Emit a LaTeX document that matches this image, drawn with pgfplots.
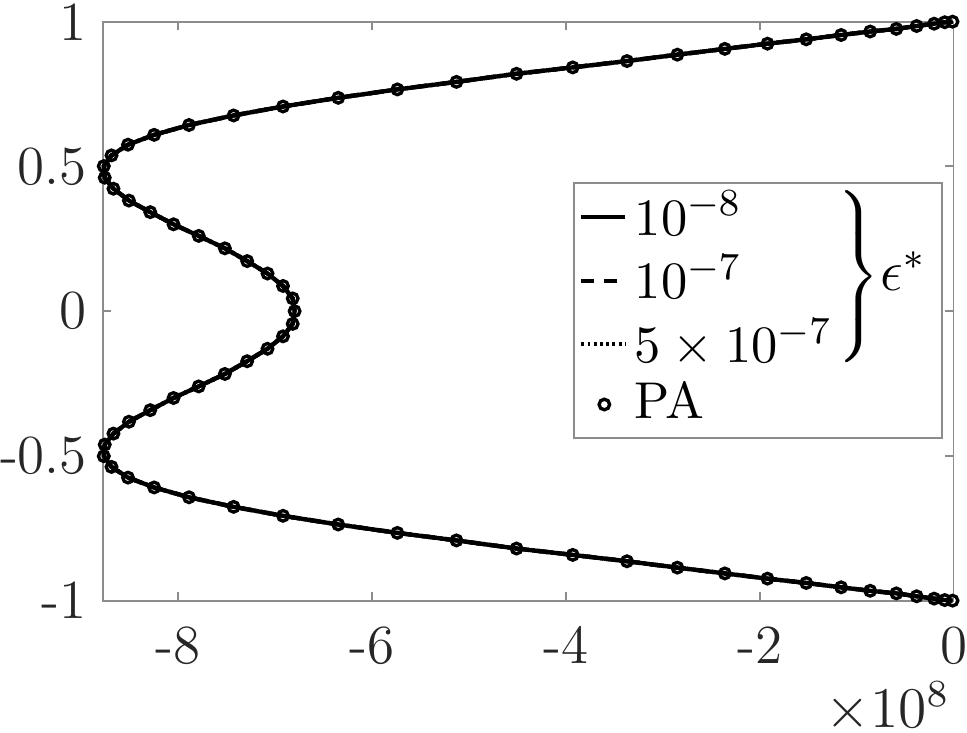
\documentclass[border={0pt 0pt 0pt 0.7pt}]{standalone}
\usepackage{pgfplots}
\pgfplotsset{compat=1.18}
\usepackage{pgfplotstable}
\definecolor{tgray}{rgb}{0.15,0.15,0.15}
\definecolor{agray}{rgb}{0.55,0.55,0.55}

\pgfplotsset{
  linelegend/.style={legend image code/.code={\draw[##1] (0pt,0pt) -- (9.2pt,0pt);}},
  marklegend/.style={legend image code/.code={\draw[##1] plot coordinates {(4.8pt,0pt)};}},
}

\pgfplotstableread{
x y
-0.01 1.000
-0.09 0.998
-0.20 0.993
-0.38 0.985
-0.59 0.975
-0.86 0.966
-1.16 0.954
-1.52 0.939
-1.92 0.924
-2.36 0.906
-2.85 0.886
-3.37 0.864
-3.93 0.842
-4.51 0.820
-5.13 0.792
-5.74 0.766
-6.35 0.737
-6.92 0.707
-7.43 0.676
-7.89 0.643
-8.25 0.609
-8.52 0.575
-8.69 0.538
-8.77 0.501
-8.76 0.461
-8.67 0.423
-8.51 0.382
-8.29 0.342
-8.05 0.300
-7.79 0.260
-7.52 0.217
-7.29 0.173
-7.08 0.130
-6.92 0.087
-6.82 0.044
-6.80 0.000
-6.82 -0.044
-6.92 -0.087
-7.08 -0.130
-7.29 -0.173
-7.52 -0.217
-7.79 -0.260
-8.05 -0.300
-8.29 -0.342
-8.51 -0.382
-8.67 -0.423
-8.76 -0.461
-8.77 -0.501
-8.69 -0.538
-8.52 -0.575
-8.25 -0.609
-7.89 -0.643
-7.43 -0.676
-6.92 -0.707
-6.35 -0.737
-5.74 -0.766
-5.13 -0.792
-4.51 -0.820
-3.93 -0.842
-3.37 -0.864
-2.85 -0.886
-2.36 -0.906
-1.92 -0.924
-1.52 -0.939
-1.16 -0.954
-0.86 -0.966
-0.59 -0.975
-0.38 -0.985
-0.20 -0.993
-0.09 -0.998
-0.01 -1.000
}\datatable

\begin{document}
\fontsize{11.5}{13.8}\selectfont
\begin{tikzpicture}[font=\fontsize{11.5}{13.8}\selectfont]
\begin{axis}[
  scale only axis,
  width=177.5pt, height=120.8pt,
  xmin=-8.78, xmax=0, ymin=-1, ymax=1,
  xtick={-8,-6,-4,-2,0},
  xticklabels={-8,-6,-4,-2,0},
  ytick={-1,-0.5,0,0.5,1},
  yticklabels={-1,-0.5,0,0.5,1},
  tick align=inside,
  major tick length=1.7pt,
  axis line style={agray, line width=0.4pt},
  tick style={agray, line width=0.4pt},
  ticklabel style={text=tgray, font=\fontsize{11.5}{13.8}\selectfont},
  xticklabel style={inner xsep=0pt, inner ysep=0pt, yshift=-5.2pt},
  yticklabel style={inner xsep=0pt, inner ysep=0pt, xshift=-3.1pt},
  clip=false,
  legend style={draw=none, fill=none, at={(0.560,0.7170)}, anchor=north west,
    inner sep=0pt, outer sep=0pt, text=black,
    font=\fontsize{10.8}{13}\selectfont,
    nodes={inner xsep=1.5pt, inner ysep=1.2pt}},
  legend cell align=left,
]
\addplot[black, line width=0.9pt, solid, linelegend] table {\datatable};
\addlegendentry{$10^{-8}$}
\addplot[black, line width=0.9pt, dash pattern=on 2.6pt off 2.2pt, linelegend] table {\datatable};
\addlegendentry{$10^{-7}$}
\addplot[black, line width=0.9pt, dash pattern=on 0.6pt off 0.7pt, linelegend] table {\datatable};
\addlegendentry{$5\times10^{-7}$}
\addplot[black, only marks, mark=o, mark size=1.1pt, line width=0.7pt, marklegend] table {\datatable};
\addlegendentry{PA}
\draw[agray, line width=0.4pt] (rel axis cs:0.554,0.281) rectangle (rel axis cs:0.986,0.7207);
\node[anchor=west, inner sep=0pt] at (rel axis cs:0.856,0.560)
  {$\left.\vcenter{\hbox{\rule{0pt}{39pt}}}\right\}\!\epsilon^{*}$};
\node[anchor=north east, inner sep=0pt, text=tgray] at ([yshift=-16.8pt, xshift=-0.6pt]rel axis cs:1,0) {$\times10^{8}$};
\end{axis}
\end{tikzpicture}
\end{document}
